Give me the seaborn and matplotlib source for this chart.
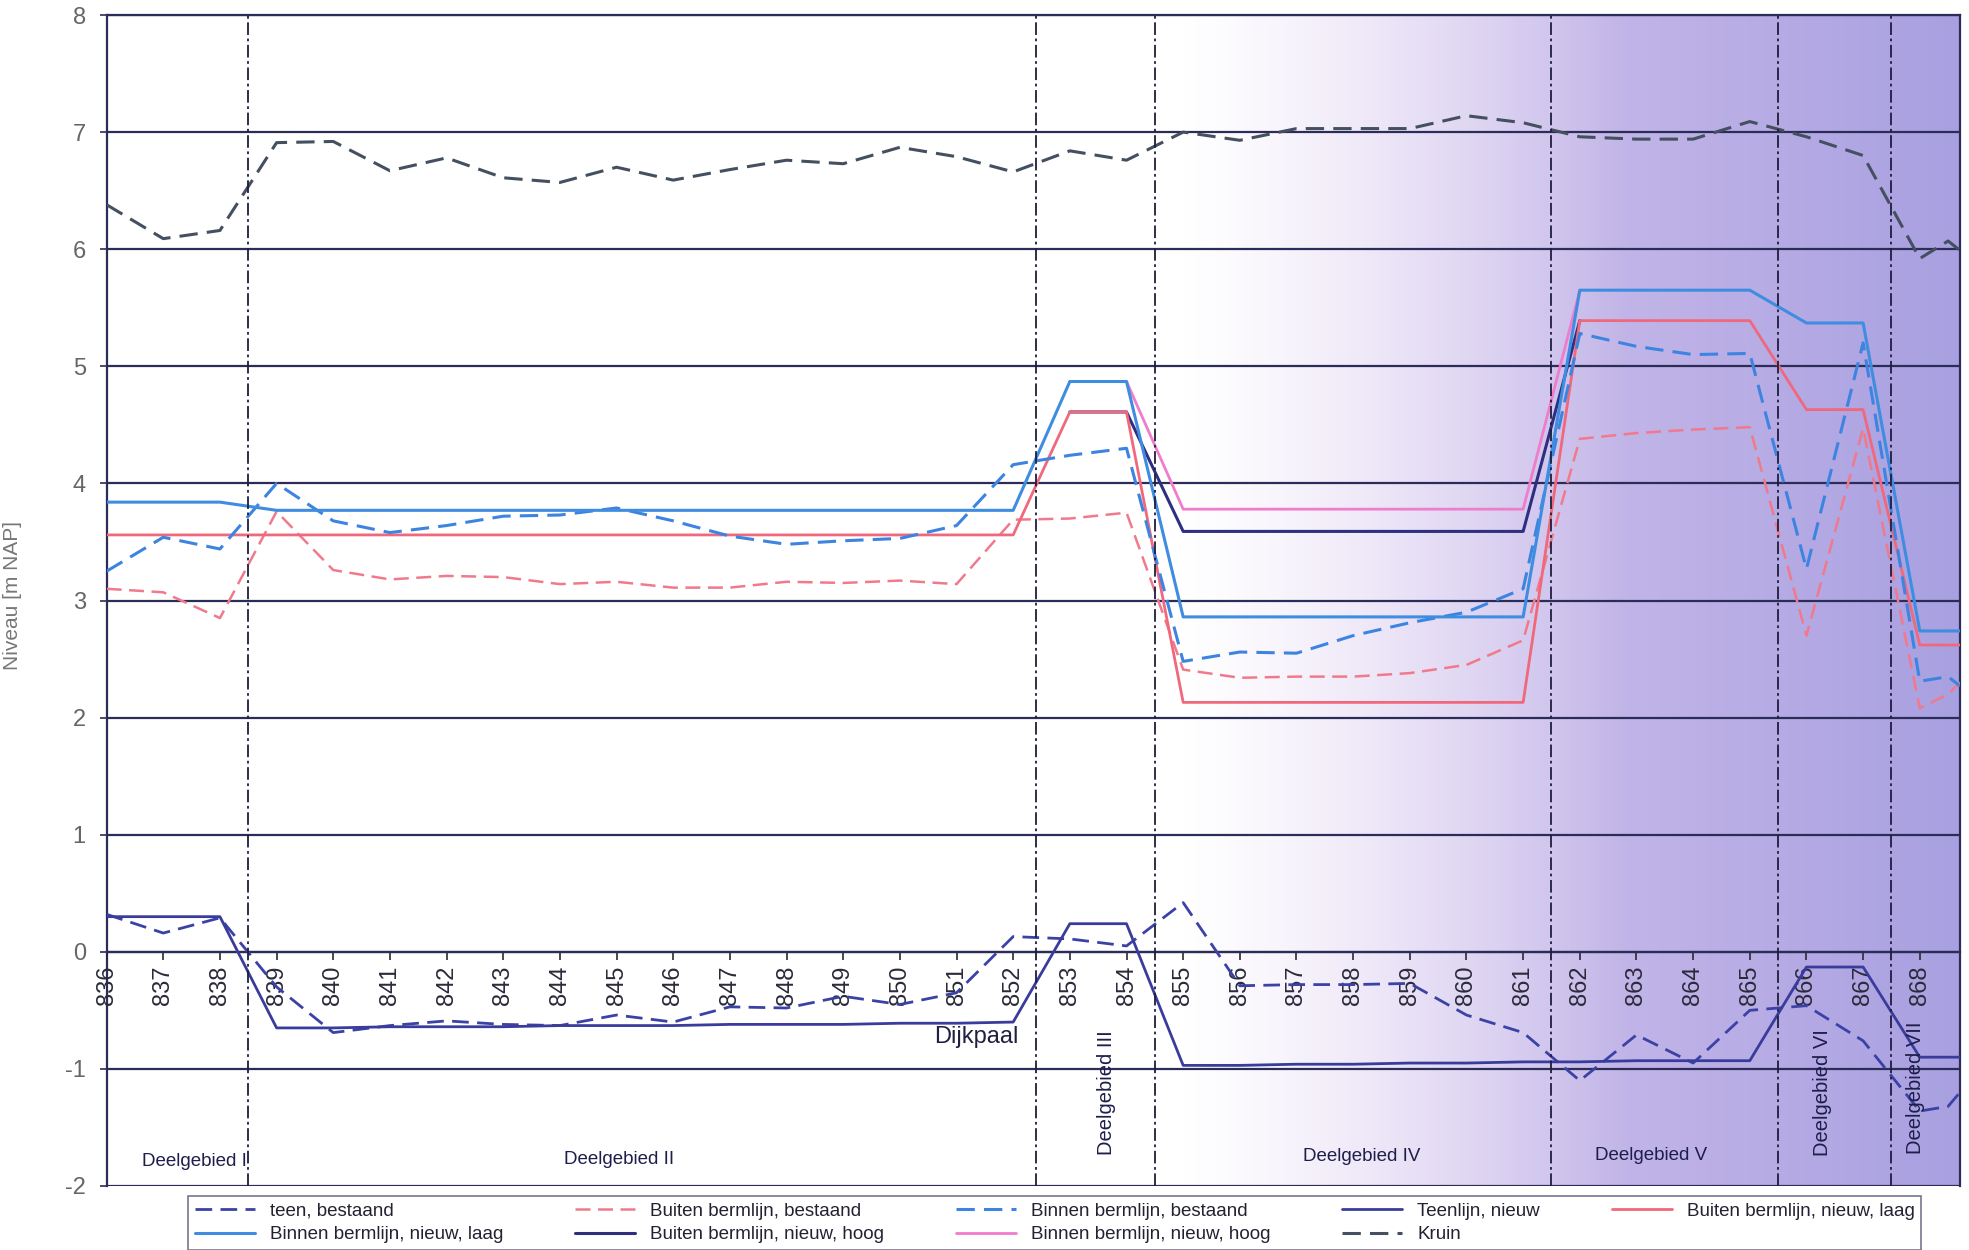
import numpy as np
import pandas as pd
import matplotlib
matplotlib.use("Agg")
import matplotlib.pyplot as plt
import seaborn as sns

nan = np.nan

# ---------------- data ----------------
dijkpaal = [836, 837, 838, 839, 840, 841, 842, 843, 844, 845, 846, 847, 848, 849, 850, 851,
            852, 853, 854, 855, 856, 857, 858, 859, 860, 861, 862, 863, 864, 865, 866, 867,
            868, 868.5, 868.71]

teen_bestaand = [0.32, 0.16, 0.29, -0.30, -0.69, -0.63, -0.59, -0.62, -0.63, -0.54, -0.60, -0.47,
                 -0.48, -0.38, -0.45, -0.35, 0.13, 0.11, 0.05, 0.42, -0.29, -0.28, -0.28, -0.27,
                 -0.54, -0.69, -1.10, -0.71, -0.95, -0.50, -0.46, -0.76, -1.36, -1.32, -1.20]

buiten_bestaand = [3.10, 3.07, 2.85, 3.76, 3.26, 3.18, 3.21, 3.20, 3.14, 3.16, 3.11, 3.11, 3.16,
                   3.15, 3.17, 3.14, 3.69, 3.70, 3.75, 2.41, 2.34, 2.35, 2.35, 2.38, 2.45, 2.66,
                   4.38, 4.43, 4.46, 4.48, 2.70, 4.47, 2.08, 2.20, 2.30]

binnen_bestaand = [3.25, 3.54, 3.44, 4.00, 3.68, 3.58, 3.64, 3.72, 3.73, 3.79, 3.68, 3.55, 3.48,
                   3.51, 3.53, 3.64, 4.16, 4.24, 4.30, 2.48, 2.56, 2.55, 2.70, 2.81, 2.90, 3.10,
                   5.28, 5.17, 5.10, 5.11, 3.27, 5.20, 2.31, 2.35, 2.27]

teenlijn_nieuw = [0.30, 0.30, 0.30, -0.65, -0.65, -0.64, -0.64, -0.64, -0.63, -0.63, -0.63, -0.62,
                  -0.62, -0.62, -0.61, -0.61, -0.60, 0.24, 0.24, -0.97, -0.97, -0.96, -0.96, -0.95,
                  -0.95, -0.94, -0.94, -0.93, -0.93, -0.93, -0.13, -0.13, -0.90, -0.90, -0.90]

buiten_nieuw_laag = [3.56, 3.56, 3.56, 3.56, 3.56, 3.56, 3.56, 3.56, 3.56, 3.56, 3.56, 3.56, 3.56,
                     3.56, 3.56, 3.56, 3.56, 4.61, 4.61, 2.13, 2.13, 2.13, 2.13, 2.13, 2.13, 2.13,
                     5.39, 5.39, 5.39, 5.39, 4.63, 4.63, 2.62, 2.62, 2.62]

binnen_nieuw_laag = [3.84, 3.84, 3.84, 3.77, 3.77, 3.77, 3.77, 3.77, 3.77, 3.77, 3.77, 3.77, 3.77,
                     3.77, 3.77, 3.77, 3.77, 4.87, 4.87, 2.86, 2.86, 2.86, 2.86, 2.86, 2.86, 2.86,
                     5.65, 5.65, 5.65, 5.65, 5.37, 5.37, 2.74, 2.74, 2.74]

buiten_nieuw_hoog = [nan, nan, nan, nan, nan, nan, nan, nan, nan, nan, nan, nan, nan, nan, nan, nan,
                     nan, 4.61, 4.61, 3.59, 3.59, 3.59, 3.59, 3.59, 3.59, 3.59, 5.39, nan, nan, nan,
                     nan, nan, nan, nan, nan]

binnen_nieuw_hoog = [nan, nan, nan, nan, nan, nan, nan, nan, nan, nan, nan, nan, nan, nan, nan, nan,
                     nan, 4.87, 4.87, 3.78, 3.78, 3.78, 3.78, 3.78, 3.78, 3.78, 5.65, nan, nan, nan,
                     nan, nan, nan, nan, nan]

kruin = [6.38, 6.09, 6.16, 6.91, 6.92, 6.67, 6.78, 6.61, 6.57, 6.70, 6.59, 6.68, 6.76, 6.73, 6.87,
         6.79, 6.66, 6.84, 6.76, 7.00, 6.93, 7.03, 7.03, 7.03, 7.14, 7.08, 6.96, 6.94, 6.94, 7.09,
         6.96, 6.80, 5.92, 6.07, 5.99]

x_ticks = list(range(836, 869))
y_ticks = list(range(-2, 9))

grens_deelgebied = [838.5, 852.4, 854.5, 861.5, 865.5, 867.5]
deelgebied_labels = ["Deelgebied I", "Deelgebied II", "Deelgebied III", "Deelgebied IV",
                     "Deelgebied V", "Deelgebied VI", "Deelgebied VII"]

# ---------------- style ----------------
sns.set_theme(style="white")
plt.rcParams["font.family"] = ["Liberation Sans", "DejaVu Sans"]
plt.rcParams["axes.unicode_minus"] = False

fig = plt.figure(figsize=(19.69, 12.5), dpi=100)
ax = fig.add_axes([106.6 / 1969, 1 - 1186 / 1250, (1960 - 106.6) / 1969, (1186 - 15) / 1250])

# scan-like lavender background on the right
n = 600
xs = np.linspace(0, 1, n)
alpha = np.clip((xs - 0.58) / 0.24, 0, 1) ** 1.1 * 0.85
c0 = np.array([0.84, 0.76, 0.93])
c1 = np.array([0.60, 0.56, 0.86])
t = np.clip((xs - 0.62) / 0.38, 0, 1)[:, None]
cols = c0 * (1 - t) + c1 * t
img = np.zeros((2, n, 4))
img[:, :, :3] = cols[None, :, :]
img[:, :, 3] = alpha[None, :]
ax.imshow(img, extent=(0, 1, 0, 1), transform=ax.transAxes, aspect="auto", zorder=0,
          interpolation="bilinear")

series = [
    # label, values, color, linestyle, lw, zorder
    ("teen, bestaand", teen_bestaand, "#3b42a6", (0, (6, 3)), 2.0, 6),
    ("Buiten bermlijn, bestaand", buiten_bestaand, "#f07a8c", (0, (6, 3)), 1.8, 4),
    ("Binnen bermlijn, bestaand", binnen_bestaand, "#3d84e0", (0, (6, 3)), 2.2, 5),
    ("Teenlijn, nieuw", teenlijn_nieuw, "#3a3c9c", "-", 2.0, 6),
    ("Buiten bermlijn, nieuw, laag", buiten_nieuw_laag, "#f0687c", "-", 2.0, 4),
    ("Binnen bermlijn, nieuw, laag", binnen_nieuw_laag, "#3f8de0", "-", 2.2, 5),
    ("Buiten bermlijn, nieuw, hoog", buiten_nieuw_hoog, "#2e2f80", "-", 2.2, 3),
    ("Binnen bermlijn, nieuw, hoog", binnen_nieuw_hoog, "#f07ccc", "-", 2.0, 3),
    ("Kruin", kruin, "#44505f", (0, (6, 3)), 2.2, 6),
]

handles = []
labels = []
for lab, vals, col, ls, lw, z in series:
    df = pd.DataFrame({"x": dijkpaal, "y": vals})
    sns.lineplot(data=df, x="x", y="y", ax=ax, color=col, linestyle=ls, linewidth=lw,
                 estimator=None, sort=False, label=lab, zorder=z, legend=False)
    line = ax.lines[-1]
    handles.append(line)
    labels.append(lab)

# Deelgebied borders
for xb in grens_deelgebied:
    ax.axvline(xb, color="#1e1e3c", linewidth=1.3, linestyle=(0, (7, 2, 1.5, 2)), zorder=7)

# axes setup
ax.set_xlim(836, 868.71)
ax.set_ylim(-2, 8)
ax.set_xticks(x_ticks)
ax.set_xticklabels([str(v) for v in x_ticks])
ax.set_yticks(y_ticks)
ax.grid(axis="y", color="#2c2c58", linewidth=1.6, zorder=1)
ax.grid(axis="x", visible=False)
ax.set_axisbelow(False)
for sp in ax.spines.values():
    sp.set_color("#2c2c58")
    sp.set_linewidth(1.6)
ax.spines["bottom"].set_position(("data", 0))

ax.tick_params(axis="x", rotation=90, labelsize=17, colors="#2a2a3a", direction="out",
               length=6, width=1.2, pad=4, bottom=True)
ax.tick_params(axis="y", labelsize=17, labelcolor="#666666", color="#2c2c58", direction="out",
               length=5, width=1.2, pad=10, left=True)

ax.set_xlabel("")
ax.set_ylabel("Niveau [m NAP]", fontsize=15, color="#777777")
ax.yaxis.set_label_coords(-0.0456, 0.504)

ax.text(851.35, -0.73, "Dijkpaal", fontsize=17, color="#202040", ha="center", va="center",
        zorder=9)

h_kw = dict(fontsize=13.5, color="#1e1e4a", zorder=9, ha="center", va="center")
v_kw = dict(fontsize=14.5, color="#1e1e4a", zorder=9, ha="center", va="center", rotation=90)
ax.text(837.55, -1.79, deelgebied_labels[0], **h_kw)
ax.text(845.05, -1.77, deelgebied_labels[1], **h_kw)
ax.text(853.65, -1.2, deelgebied_labels[2], **v_kw)
ax.text(858.15, -1.75, deelgebied_labels[3], **h_kw)
ax.text(863.25, -1.74, deelgebied_labels[4], **h_kw)
ax.text(866.28, -1.2, deelgebied_labels[5], **v_kw)
ax.text(867.92, -1.16, deelgebied_labels[6], **v_kw)

# legend: row-major order in 5 columns
order = [0, 5, 1, 6, 2, 7, 3, 8, 4]
leg = fig.legend([handles[i] for i in order], [labels[i] for i in order], ncol=5,
                 loc="lower left", bbox_to_anchor=(188 / 1969, 0.0, 1733 / 1969, 57 / 1250),
                 mode="expand", frameon=True, fancybox=False, edgecolor="#555570",
                 fontsize=13.5, handlelength=3.2, borderaxespad=0.0, columnspacing=1.0,
                 labelspacing=0.35, borderpad=0.35)
leg.get_frame().set_linewidth(1.2)
for txt in leg.get_texts():
    txt.set_color("#222233")

fig.savefig("out.png", dpi=100)
